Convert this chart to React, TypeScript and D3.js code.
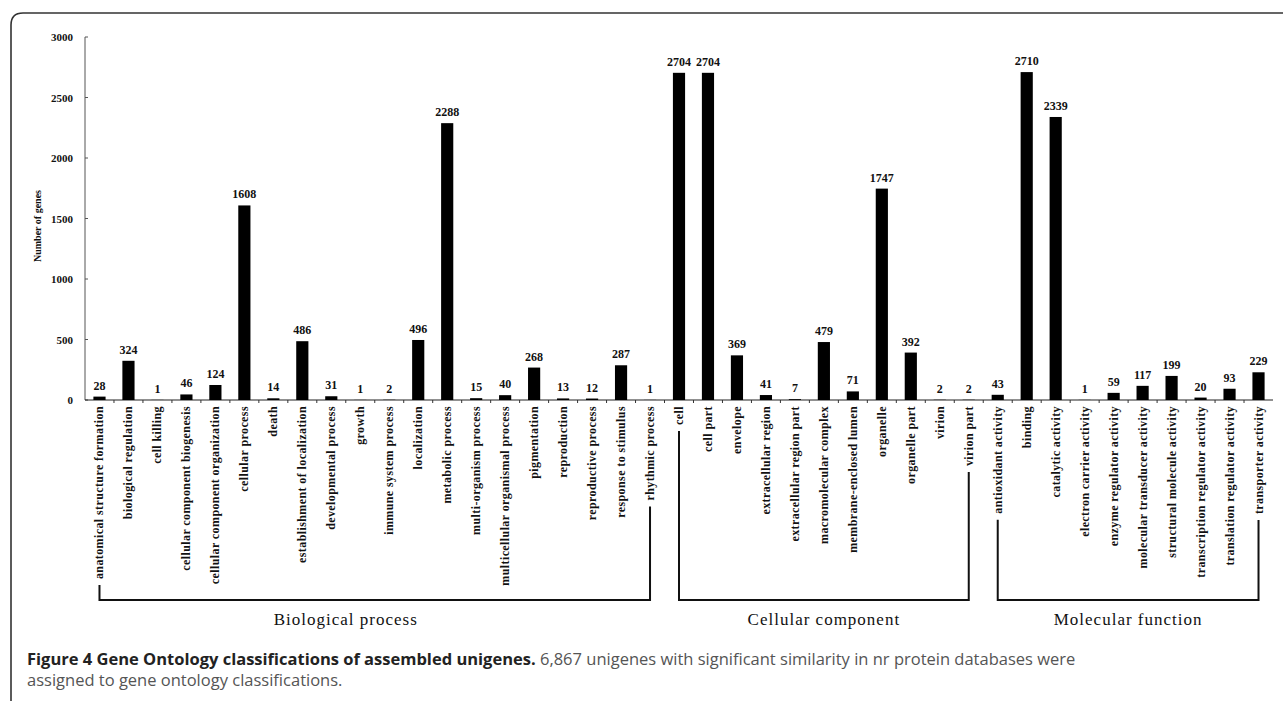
import React, { useEffect, useRef } from "react";
import * as d3 from "d3";

const bpCategories = [
  "anatomical structure formation", "biological regulation", "cell killing",
  "cellular component biogenesis", "cellular component organization", "cellular process",
  "death", "establishment of localization", "developmental process", "growth",
  "immune system process", "localization", "metabolic process", "multi-organism process",
  "multicellular organismal process", "pigmentation", "reproduction", "reproductive process",
  "response to stimulus", "rhythmic process",
];
const bpValues = [28, 324, 1, 46, 124, 1608, 14, 486, 31, 1, 2, 496, 2288, 15, 40, 268, 13, 12, 287, 1];

const ccCategories = [
  "cell", "cell part", "envelope", "extracellular region", "extracellular region part",
  "macromolecular complex", "membrane-enclosed lumen", "organelle", "organelle part",
  "virion", "virion part",
];
const ccValues = [2704, 2704, 369, 41, 7, 479, 71, 1747, 392, 2, 2];

const mfCategories = [
  "antioxidant activity", "binding", "catalytic activity", "electron carrier activity",
  "enzyme regulator activity", "molecular transducer activity", "structural molecule activity",
  "transcription regulator activity", "translation regulator activity", "transporter activity",
];
const mfValues = [43, 2710, 2339, 1, 59, 117, 199, 20, 93, 229];

const groupNames = ["Biological process", "Cellular component", "Molecular function"];
const yTicks = [0, 500, 1000, 1500, 2000, 2500, 3000];
const yTitle = "Number of genes";
const captionBold = "Figure 4 Gene Ontology classifications of assembled unigenes.";
const captionRest1 = " 6,867 unigenes with significant similarity in nr protein databases were";
const captionLine2 = "assigned to gene ontology classifications.";

export default function App() {
  const ref = useRef<SVGSVGElement | null>(null);

  useEffect(() => {
    const svg = d3.select(ref.current);
    svg.selectAll("*").remove();

    const groups = [
      { name: groupNames[0], cats: bpCategories, vals: bpValues },
      { name: groupNames[1], cats: ccCategories, vals: ccValues },
      { name: groupNames[2], cats: mfCategories, vals: mfValues },
    ];
    const data = groups.flatMap((g, gi) => g.cats.map((c, i) => ({ cat: c, val: g.vals[i], g: gi })));

    const x0 = 85, x1 = 1273, yBase = 400, yTop = 37;
    const x = d3.scaleBand<string>().domain(data.map((d) => d.cat)).range([x0, x1]).paddingInner(0.58).paddingOuter(0.29);
    const y = d3.scaleLinear().domain([0, 3000]).range([yBase, yTop]);
    const serif = "'Liberation Serif', 'Times New Roman', serif";

    // frame
    svg.append("path")
      .attr("d", `M11,701 L11,25 Q11,13 23,13 L1283,13`)
      .attr("fill", "none").attr("stroke", "#333").attr("stroke-width", 1.6);

    // y axis
    svg.append("line").attr("x1", x0).attr("x2", x0).attr("y1", y(3000)).attr("y2", yBase)
      .attr("stroke", "#555").attr("stroke-width", 1);
    const yt = svg.append("g");
    yTicks.forEach((t) => {
      yt.append("line").attr("x1", x0).attr("x2", x0 + 3).attr("y1", y(t)).attr("y2", y(t))
        .attr("stroke", "#555");
      yt.append("text").attr("x", 73).attr("y", y(t) + 4).attr("text-anchor", "end")
        .attr("font-family", serif).attr("font-weight", "bold").attr("font-size", 11)
        .attr("fill", "#111").text(String(t));
    });
    svg.append("text").attr("transform", `translate(41,226) rotate(-90)`)
      .attr("text-anchor", "middle").attr("font-family", serif).attr("font-weight", "bold")
      .attr("font-size", 10).attr("fill", "#111").text(yTitle);

    // x axis
    svg.append("line").attr("x1", x0).attr("x2", x1).attr("y1", yBase).attr("y2", yBase)
      .attr("stroke", "#222").attr("stroke-width", 1.2);
    const step = x.step();
    data.forEach((d, i) => {
      const tx = (x(d.cat) as number) - (step - x.bandwidth()) / 2;
      if (i > 0) svg.append("line").attr("x1", tx).attr("x2", tx).attr("y1", yBase).attr("y2", yBase + 3)
        .attr("stroke", "#333");
    });

    // bars
    svg.append("g").selectAll("rect").data(data).join("rect")
      .attr("x", (d) => x(d.cat) as number)
      .attr("width", x.bandwidth())
      .attr("y", (d) => y(d.val))
      .attr("height", (d) => yBase - y(d.val))
      .attr("fill", "#000");

    // value labels
    svg.append("g").selectAll("text").data(data).join("text")
      .attr("x", (d) => (x(d.cat) as number) + x.bandwidth() / 2)
      .attr("y", (d) => y(d.val) - 7)
      .attr("text-anchor", "middle").attr("font-family", serif).attr("font-weight", "bold")
      .attr("font-size", 12).attr("fill", "#111").text((d) => String(d.val));

    // category labels
    const labelEnds: Record<string, number> = {};
    const lg = svg.append("g");
    data.forEach((d) => {
      const cx = (x(d.cat) as number) + x.bandwidth() / 2;
      const t = lg.append("text").attr("transform", `translate(${cx + 4},406) rotate(-90)`)
        .attr("text-anchor", "end").attr("font-family", serif).attr("font-weight", "bold")
        .attr("font-size", 12).attr("letter-spacing", 0.4).attr("fill", "#111").text(d.cat);
      const len = (t.node() as SVGTextElement).getComputedTextLength();
      labelEnds[d.cat] = 406 + len;
    });

    // brackets
    const bY = 600;
    groups.forEach((g, gi) => {
      const first = g.cats[0], last = g.cats[g.cats.length - 1];
      const xa = (x(first) as number) + x.bandwidth() / 2;
      const xb = (x(last) as number) + x.bandwidth() / 2;
      svg.append("path")
        .attr("d", `M${xa},${labelEnds[first] + 6} L${xa},${bY} L${xb},${bY} L${xb},${labelEnds[last] + 6}`)
        .attr("fill", "none").attr("stroke", "#111").attr("stroke-width", 2);
      const cx = gi === 0 ? (x(g.cats[9]) as number) - (step - x.bandwidth()) / 2 : (xa + xb) / 2;
      svg.append("text").attr("x", cx).attr("y", 625).attr("text-anchor", "middle")
        .attr("font-family", serif).attr("font-size", 17).attr("letter-spacing", 1)
        .attr("fill", "#111").text(g.name);
    });

    // caption
    const capFont = "'Open Sans', 'Noto Sans', sans-serif";
    const cap = svg.append("text").attr("x", 27).attr("y", 665)
      .attr("font-family", capFont).attr("font-size", 16.5);
    cap.append("tspan").attr("font-weight", "bold").attr("fill", "#222").text(captionBold);
    cap.append("tspan").attr("fill", "#555").text(captionRest1);
    svg.append("text").attr("x", 27).attr("y", 686)
      .attr("font-family", capFont).attr("font-size", 16.5)
      .attr("fill", "#555").text(captionLine2);
  }, []);

  return (
    <svg ref={ref} width={1283} height={701}
      style={{ position: "absolute", left: 0, top: 0, background: "#fff" }} />
  );
}
